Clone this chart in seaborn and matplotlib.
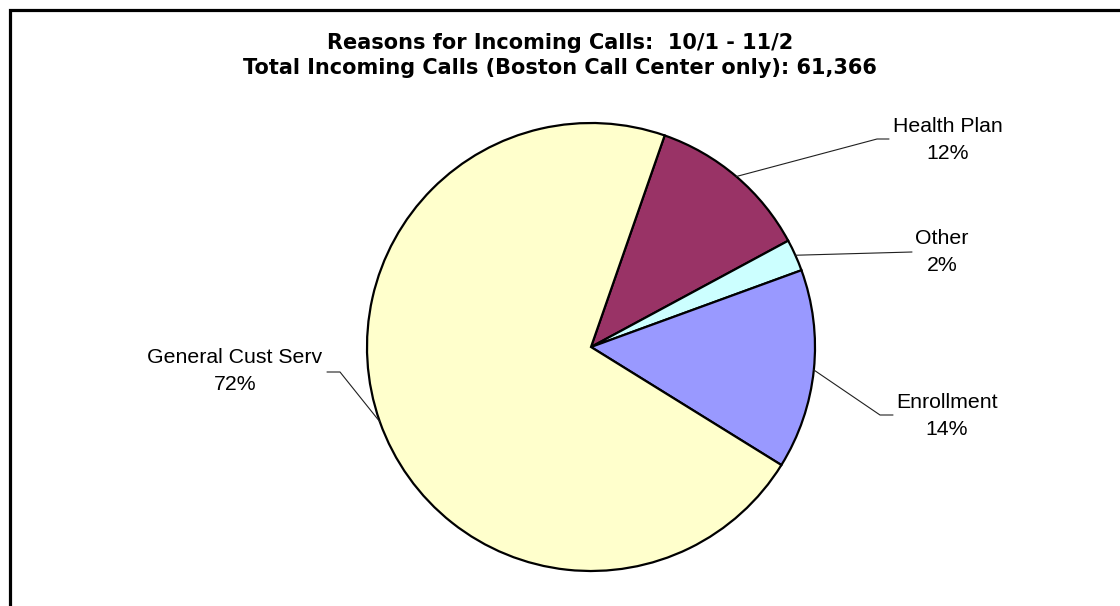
import matplotlib
matplotlib.use("Agg")
import matplotlib.pyplot as plt
import matplotlib.patches as mpatches
import numpy as np
import seaborn as sns

sns.set_theme(style="white")

# data
title_1 = "Reasons for Incoming Calls:  10/1 - 11/2"
title_2 = "Total Incoming Calls (Boston Call Center only): 61,366"
reasons = ["Health Plan", "Other", "Enrollment", "General Cust Serv"]
shares = [11.8, 2.3, 14.4, 71.5]
colors = ["#993366", "#CCFFFF", "#9999FF", "#FFFFCC"]

W, H = 1120, 606
fig = plt.figure(figsize=(W / 100, H / 100), dpi=100)
ax = fig.add_axes([0, 0, 1, 1])

def py(y):
    return H - y

cx, cy, r = 591, py(347), 224
wedges, _ = ax.pie(shares, colors=colors, startangle=70.8, counterclock=False,
                   center=(cx, cy), radius=r, frame=True,
                   wedgeprops=dict(edgecolor="black", linewidth=1.6))
ax.set_xlim(0, W)
ax.set_ylim(0, H)
ax.set_aspect("equal")
ax.axis("off")

# chart frame (runs off the right and bottom edges)
ax.add_patch(mpatches.Rectangle((9.5, -20), W + 40, py(9.5) + 20, fill=False,
                                edgecolor="black", lw=2.3, zorder=5))

# label layout: elbow point, end of leader, text centre
layout = {
    "Health Plan": ((877, 139), (889, 139), (948, 140)),
    "Other": ((912, 252), (912, 252), (942, 252)),
    "Enrollment": ((880, 415), (893, 415), (947, 416)),
    "General Cust Serv": ((340, 372), (327, 372), (235, 371)),
}

for w, name, s in zip(wedges, reasons, shares):
    mid = np.deg2rad((w.theta1 + w.theta2) / 2)
    ex, ey = cx + r * np.cos(mid), cy + r * np.sin(mid)
    (bx, by), (fx, fy), (tx, ty) = layout[name]
    ax.plot([ex, bx, fx], [ey, py(by), py(fy)], color="#202020", lw=0.8, zorder=4)
    ax.text(tx, py(ty), f"{name}\n{s:.0f}%", ha="center", va="center",
            family="Liberation Sans", fontsize=15.3, linespacing=1.55, color="black")

ax.text(560, py(43), title_1, ha="center", va="center", fontsize=15,
        fontweight="bold", family="DejaVu Sans", color="black")
ax.text(560, py(68), title_2, ha="center", va="center", fontsize=15,
        fontweight="bold", family="DejaVu Sans", color="black")

fig.savefig("out.png", dpi=100)
